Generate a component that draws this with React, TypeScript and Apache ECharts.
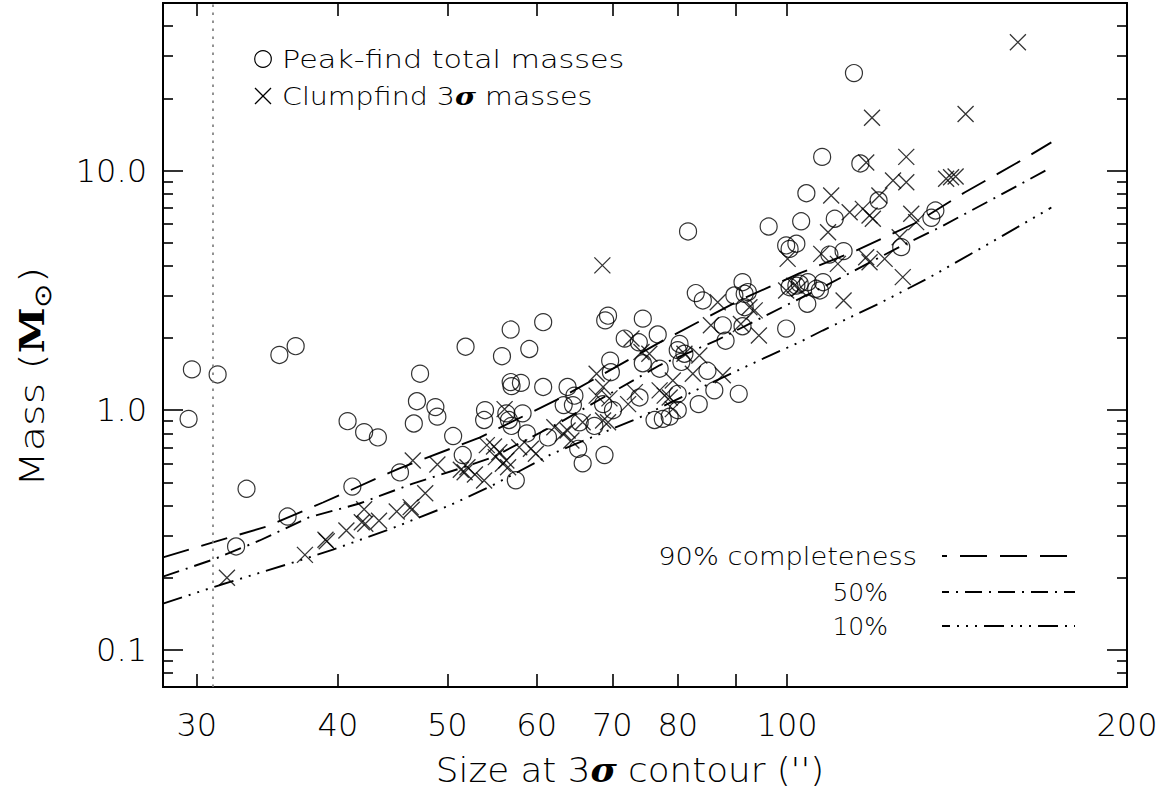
import React, { useEffect, useRef } from "react";
import * as echarts from "echarts";

// ---------- data ----------
const peakSize = [29.5, 29.7, 31.3, 33.2, 32.5, 35.5, 36.7, 36.1, 41.2, 40.8, 42.2, 43.4, 45.4, 47.0, 46.7, 47.3, 48.8, 49.0, 50.6, 51.9, 51.6, 56.9, 55.9, 56.9, 57.0, 58.1, 54.0, 53.9, 56.4, 56.7, 57.0, 58.3, 58.8, 57.5, 60.8, 59.1, 60.8, 63.9, 64.8, 63.4, 64.6, 61.4, 65.3, 65.9, 68.9, 65.5, 67.5, 68.7, 69.7, 69.8, 69.0, 69.4, 74.5, 71.8, 73.9, 76.8, 74.5, 77.1, 70.1, 74.0, 76.3, 77.6, 78.7, 80.0, 80.0, 80.6, 81.1, 80.0, 83.5, 85.0, 86.2, 90.6, 83.0, 84.2, 87.7, 88.2, 89.8, 91.3, 91.7, 92.3, 91.7, 99.8, 99.8, 100.5, 100.5, 101.9, 81.7, 107.4, 116.1, 104.0, 96.3, 102.9, 110.2, 101.9, 112.2, 109.0, 120.5, 107.6, 102.6, 104.3, 106.1, 104.2, 91.3, 80.3, 126.2, 134.2, 135.3, 114.6, 106.9];
const peakMass = [0.92, 1.48, 1.41, 0.47, 0.27, 1.70, 1.85, 0.36, 0.48, 0.90, 0.81, 0.77, 0.55, 1.09, 0.88, 1.42, 1.03, 0.94, 0.78, 1.84, 0.65, 2.17, 1.68, 1.31, 1.26, 1.30, 1.00, 0.91, 0.97, 0.91, 0.86, 0.97, 0.80, 0.51, 2.33, 1.80, 1.25, 1.25, 1.15, 1.05, 1.05, 0.77, 0.69, 0.60, 0.65, 0.89, 0.86, 1.06, 1.61, 1.44, 2.37, 2.48, 2.41, 1.99, 1.92, 2.07, 1.57, 1.49, 1.00, 1.13, 0.91, 0.92, 0.94, 1.00, 1.17, 1.59, 1.72, 1.78, 1.06, 1.46, 1.21, 1.17, 3.08, 2.87, 2.26, 1.95, 3.01, 3.42, 3.06, 3.11, 2.69, 2.19, 4.87, 4.71, 3.26, 3.31, 5.57, 11.4, 10.7, 8.04, 5.84, 6.14, 6.29, 4.95, 4.61, 4.46, 7.50, 3.42, 3.37, 3.42, 3.21, 2.78, 2.24, 1.89, 4.79, 6.35, 6.81, 25.5, 3.16];

const clumpSize = [31.9, 37.4, 39.0, 39.1, 40.7, 42.2, 42.0, 42.3, 43.5, 45.1, 46.4, 46.5, 47.8, 46.6, 49.0, 51.4, 51.8, 52.1, 52.9, 53.9, 54.2, 55.0, 55.6, 55.2, 56.2, 56.4, 56.6, 56.0, 57.9, 59.3, 59.9, 62.2, 63.3, 63.9, 64.4, 67.8, 67.8, 68.7, 69.6, 68.7, 69.4, 65.9, 72.3, 73.3, 72.8, 74.3, 75.5, 77.1, 77.9, 78.7, 79.2, 81.1, 82.5, 83.6, 86.8, 85.6, 87.7, 91.0, 92.6, 93.6, 94.4, 100.1, 99.8, 68.6, 118.9, 143.9, 127.5, 117.5, 109.4, 124.1, 127.5, 138.3, 139.7, 141.0, 120.7, 113.6, 116.7, 118.3, 119.1, 108.7, 107.2, 110.9, 128.8, 125.8, 117.5, 118.3, 122.0, 126.6, 112.2, 101.5, 102.5, 79.2, 160.1, 130.1];
const clumpMass = [0.200, 0.249, 0.288, 0.284, 0.315, 0.386, 0.341, 0.336, 0.346, 0.378, 0.394, 0.384, 0.45, 0.617, 0.594, 0.564, 0.551, 0.578, 0.539, 0.509, 0.715, 0.706, 0.668, 0.637, 1.01, 0.617, 0.578, 0.598, 0.701, 0.690, 0.658, 0.849, 0.797, 0.823, 0.747, 1.42, 1.15, 1.25, 1.12, 0.906, 0.891, 0.891, 1.06, 1.19, 1.99, 1.75, 1.72, 1.21, 1.15, 1.13, 1.01, 1.72, 1.42, 1.69, 2.82, 2.26, 1.40, 2.29, 2.69, 2.61, 2.05, 4.28, 3.16, 4.02, 16.6, 17.2, 11.4, 10.8, 7.87, 9.09, 8.94, 9.24, 9.38, 9.44, 7.87, 6.70, 6.92, 6.49, 6.29, 5.53, 4.49, 4.08, 6.60, 5.27, 4.35, 4.14, 4.28, 3.59, 2.87, 3.31, 3.21, 1.33, 34.3, 6.09];

const c90Size = [28.0, 31.0, 34.6, 38.8, 45.3, 53.4, 62.9, 77.6, 90.7, 102.5, 115.2, 130.2, 143.6, 162.2, 171.4];
const c90Mass = [0.243, 0.281, 0.327, 0.412, 0.571, 0.769, 1.12, 1.95, 2.87, 3.72, 4.64, 6.07, 8.10, 11.2, 13.1];
const c50Size = [28.0, 31.0, 34.1, 37.7, 41.8, 46.6, 51.3, 54.8, 62.9, 77.1, 86.5, 96.5, 108.2, 126.5, 136.4, 154.2, 171.4];
const c50Mass = [0.202, 0.238, 0.286, 0.357, 0.408, 0.494, 0.571, 0.635, 0.889, 1.54, 1.95, 2.53, 3.31, 4.87, 5.78, 7.87, 10.3];
const c10Size = [28.0, 31.4, 37.0, 39.6, 44.4, 50.2, 54.8, 62.0, 74.0, 86.5, 96.5, 102.5, 107.5, 120.7, 133.7, 154.2, 171.4];
const c10Mass = [0.156, 0.186, 0.236, 0.262, 0.318, 0.400, 0.485, 0.660, 0.932, 1.33, 1.69, 1.92, 2.15, 2.79, 3.58, 5.25, 7.01];

const sizeLimit = 31;

const X_MIN = 28;
const X_MAX = 200;
const Y_MIN = 0.07;
const Y_MAX = 50;
const X_TICKS = [30, 40, 50, 60, 70, 80, 90, 100, 200];
const X_LABELS = [30, 40, 50, 60, 70, 80, 100, 200];
const Y_MAJOR = [0.1, 1, 10];
const Y_MINOR = [0.08, 0.09, 0.2, 0.3, 0.4, 0.5, 0.6, 0.7, 0.8, 0.9, 2, 3, 4, 5, 6, 7, 8, 9, 20, 30, 40];

const FONT = "DejaVu Sans";
const W = 200;
const lg = Math.log10;
const zip = (a: number[], b: number[]) => a.map((v, i) => [v, b[i]]);

export default function App() {
  const ref = useRef<HTMLDivElement>(null);

  useEffect(() => {
    const chart = echarts.init(ref.current!, null, { renderer: "svg" });

    const frame = { show: true, onZero: false, lineStyle: { color: "#000", width: 2 } };
    const tickStyle = { color: "#000", width: 1.6 };

    const xOverlay = (position: "top" | "bottom", labels: boolean) => ({
      type: "value",
      gridIndex: 0,
      position,
      min: lg(X_MIN),
      max: lg(X_MAX),
      axisLine: frame,
      splitLine: { show: false },
      axisTick: { show: true, inside: true, length: 13, lineStyle: tickStyle, customValues: X_TICKS.map(lg) },
      axisLabel: labels
        ? {
            show: true,
            customValues: X_LABELS.map(lg),
            formatter: (v: number) => String(Math.round(Math.pow(10, v))),
            fontFamily: FONT,
            fontWeight: W,
            fontSize: 32,
            color: "#000",
            margin: 22,
          }
        : { show: false },
    });

    const yOverlay = (position: "left" | "right", values: number[], len: number, labels: boolean) => ({
      type: "value",
      gridIndex: 0,
      position,
      min: lg(Y_MIN),
      max: lg(Y_MAX),
      axisLine: frame,
      splitLine: { show: false },
      axisTick: { show: true, inside: true, length: len, lineStyle: tickStyle, customValues: values.map(lg) },
      axisLabel: labels
        ? {
            show: true,
            customValues: Y_MAJOR.map(lg),
            formatter: (v: number) => Math.pow(10, v).toFixed(1),
            fontFamily: FONT,
            fontWeight: W,
            fontSize: 32,
            color: "#000",
            margin: 16,
          }
        : { show: false },
    });

    const curve = (name: string, xs: number[], ys: number[], dash: number[]) => ({
      name,
      type: "line",
      xAxisIndex: 0,
      yAxisIndex: 0,
      data: zip(xs, ys),
      symbol: "none",
      showSymbol: false,
      silent: true,
      lineStyle: { color: "#000", width: 1.9, type: dash },
      z: 3,
    });

    const legendText = (text: string, x: number, y: number, align: string, sx: number, rich?: any) => ({
      type: "text",
      x,
      y,
      scaleX: sx,
      silent: true,
      style: {
        text,
        x: 0,
        y: 0,
        fill: "#000",
        fontFamily: FONT,
        fontWeight: W,
        fontSize: 25,
        align,
        verticalAlign: "middle",
        rich,
      },
    });

    const sample = (y: number, dash: number[], offset: number) => ({
      type: "line",
      silent: true,
      shape: { x1: 942, y1: y, x2: 1075, y2: y },
      style: { stroke: "#000", lineWidth: 1.9, lineDash: dash, lineDashOffset: offset },
    });

    const DASH90 = [27, 13];
    const DASH50 = [17, 7, 2, 7];
    const DASH10 = [20, 7, 2, 7, 2, 7, 2, 7];

    const option: any = {
      animation: false,
      backgroundColor: "#fff",
      grid: {
        left: 163,
        top: 3,
        right: 44,
        bottom: 109,
        containLabel: false,
        outerBoundsMode: "none",
      },
      xAxis: [
        {
          type: "log",
          logBase: 10,
          min: X_MIN,
          max: X_MAX,
          position: "bottom",
          axisLine: { show: false },
          axisTick: { show: false },
          axisLabel: { show: false },
          splitLine: { show: false },
        },
        xOverlay("bottom", true),
        xOverlay("top", false),
      ],
      yAxis: [
        {
          type: "log",
          logBase: 10,
          min: Y_MIN,
          max: Y_MAX,
          position: "left",
          axisLine: { show: false },
          axisTick: { show: false },
          axisLabel: { show: false },
          splitLine: { show: false },
        },
        yOverlay("left", Y_MAJOR, 20, true),
        yOverlay("left", Y_MINOR, 10, false),
        yOverlay("right", Y_MAJOR, 20, false),
        yOverlay("right", Y_MINOR, 10, false),
      ],
      series: [
        {
          name: "Peak-find total masses",
          type: "scatter",
          xAxisIndex: 0,
          yAxisIndex: 0,
          data: zip(peakSize, peakMass),
          symbol: "circle",
          symbolSize: 17,
          silent: true,
          itemStyle: { color: "rgba(0,0,0,0)", borderColor: "#000", borderWidth: 1.2 },
          z: 4,
          markLine: {
            silent: true,
            symbol: ["none", "none"],
            label: { show: false },
            lineStyle: { color: "#777", width: 1.6, type: [2.5, 5.5] },
            data: [{ xAxis: sizeLimit }],
          },
        },
        {
          name: "Clumpfind 3σ masses",
          type: "scatter",
          xAxisIndex: 0,
          yAxisIndex: 0,
          data: zip(clumpSize, clumpMass),
          symbol: "path://M0,0L10,10M10,0L0,10",
          symbolSize: 16,
          silent: true,
          itemStyle: { color: "none", borderColor: "#000", borderWidth: 1.3 },
          z: 4,
        },
        curve("90% completeness", c90Size, c90Mass, DASH90),
        curve("50%", c50Size, c50Mass, DASH50),
        curve("10%", c10Size, c10Mass, DASH10),
      ],
      graphic: [
        // top-left legend
        {
          type: "circle",
          silent: true,
          shape: { cx: 263, cy: 59, r: 8.3 },
          style: { fill: "none", stroke: "#000", lineWidth: 1.2 },
        },
        {
          type: "line",
          silent: true,
          shape: { x1: 255, y1: 88, x2: 271, y2: 104 },
          style: { stroke: "#000", lineWidth: 1.3 },
        },
        {
          type: "line",
          silent: true,
          shape: { x1: 271, y1: 88, x2: 255, y2: 104 },
          style: { stroke: "#000", lineWidth: 1.3 },
        },
        legendText("Peak-find total masses", 282, 59, "left", 1.21),
        legendText("{a|Clumpfind 3}{s|σ}{a| masses}", 282, 96, "left", 1.14, {
          a: { fontFamily: FONT, fontWeight: W, fontSize: 25, fill: "#000" },
          s: { fontFamily: "DejaVu Serif", fontSize: 25, fontStyle: "italic", fontWeight: "bold", fill: "#000" },
        }),
        // bottom-right legend
        legendText("90% completeness", 917, 556, "right", 1.09),
        legendText("50%", 888, 592, "right", 1.0),
        legendText("10%", 888, 626, "right", 1.0),
        sample(556, DASH90, 22),
        sample(592, DASH50, 10),
        sample(626, DASH10, 12),
        // axis titles
        {
          type: "text",
          x: 630,
          y: 770,
          scaleX: 1.05,
          silent: true,
          style: {
            text: "{a|Size at 3}{s|σ}{a| contour ('')}",
            x: 0,
            y: 0,
            align: "center",
            verticalAlign: "middle",
            fill: "#000",
            rich: {
              a: { fontFamily: FONT, fontWeight: W, fontSize: 34, fill: "#000" },
              s: { fontFamily: "DejaVu Serif", fontSize: 34, fontStyle: "italic", fontWeight: "bold", fill: "#000" },
            },
          },
        },
        {
          type: "text",
          x: 32,
          y: 377,
          rotation: Math.PI / 2,
          scaleX: 1.22,
          silent: true,
          style: {
            text: "{a|Mass (}{m|M}{o|⊙}{a|)}",
            x: 0,
            y: 0,
            align: "center",
            verticalAlign: "middle",
            fill: "#000",
            rich: {
              a: { fontFamily: FONT, fontWeight: W, fontSize: 34, fill: "#000", lineHeight: 44 },
              m: { fontFamily: "DejaVu Serif", fontSize: 34, fontWeight: "bold", fill: "#000", lineHeight: 44 },
              o: { fontFamily: FONT, fontWeight: W, fontSize: 24, fill: "#000", lineHeight: 24, verticalAlign: "bottom" },
            },
          },
        },
      ],
    };

    chart.setOption(option);
    return () => chart.dispose();
  }, []);

  return (
    <div
      ref={ref}
      style={{ position: "fixed", left: 0, top: 0, width: 1171, height: 796, background: "#fff" }}
    />
  );
}
